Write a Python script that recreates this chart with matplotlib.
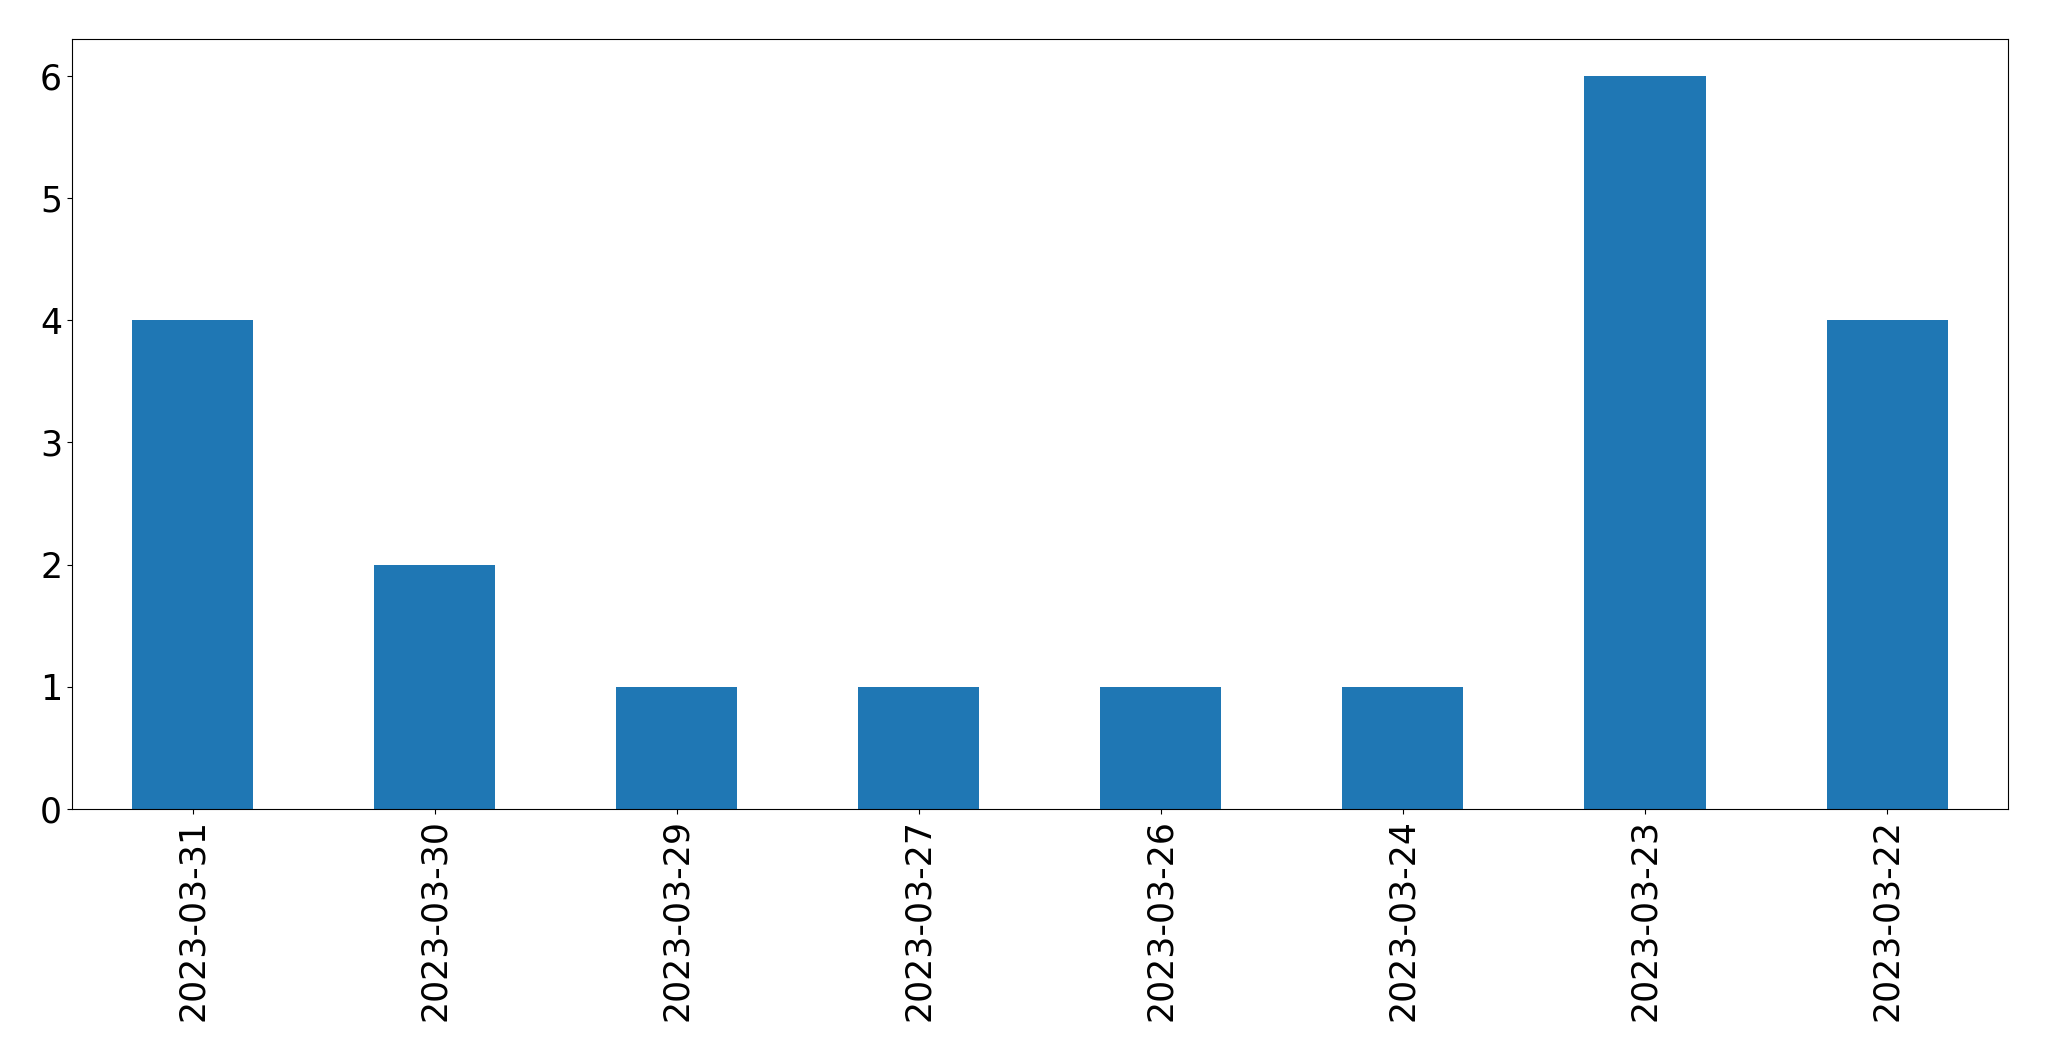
import matplotlib
matplotlib.use("Agg")
import matplotlib.pyplot as plt

dates = ["2023-03-31", "2023-03-30", "2023-03-29", "2023-03-27",
         "2023-03-26", "2023-03-24", "2023-03-23", "2023-03-22"]
counts = [4, 2, 1, 1, 1, 1, 6, 4]

fig, ax = plt.subplots(figsize=(20.49, 10.61), dpi=100)
fig.subplots_adjust(left=0.0351, right=0.98, top=0.9632, bottom=0.2375)

x = list(range(len(dates)))
ax.bar(x, counts, width=0.5, color="#1f77b4")
ax.set_xlim(-0.5, len(dates) - 0.5)
ax.set_ylim(0, 6.3)
ax.set_xticks(x)
ax.set_xticklabels(dates, rotation=90)
ax.tick_params(axis="both", labelsize=25)

plt.savefig("out.png")
